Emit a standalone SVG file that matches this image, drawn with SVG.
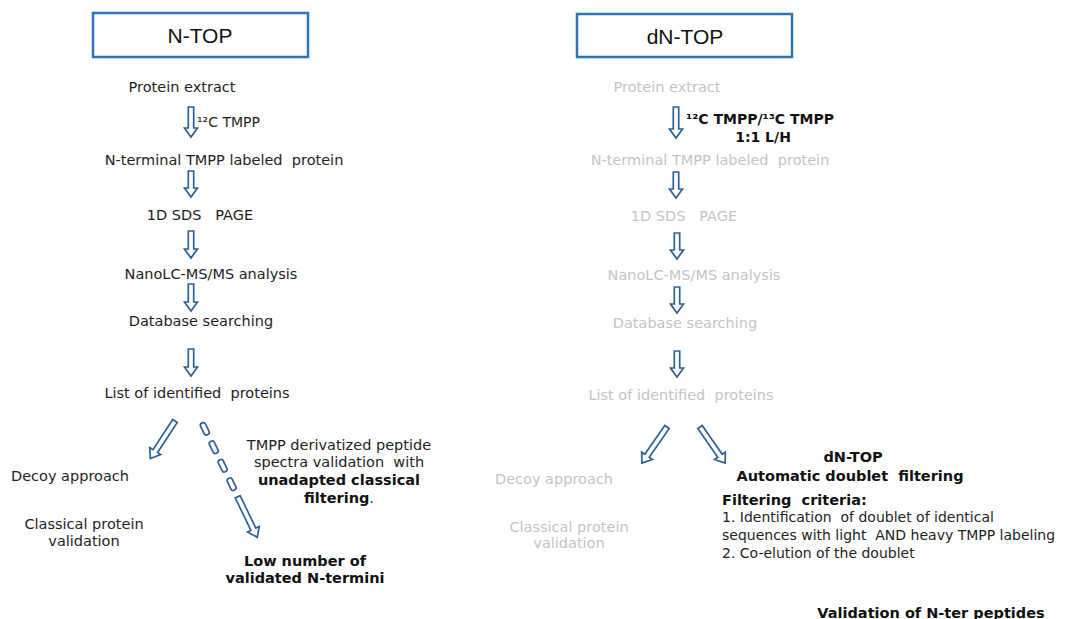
<svg xmlns="http://www.w3.org/2000/svg" width="1065" height="619" viewBox="0 0 1065 619">
<style>
text{font-family:"DejaVu Sans",Verdana,sans-serif;font-size:14.5px;fill:#1e1e1e;white-space:pre}
.c{text-anchor:middle}
.g{fill:#c4c4c4}
.b{font-weight:bold;fill:#111}
.s{font-size:14px}
.title{font-family:"Liberation Sans",Arial,sans-serif;font-size:21px;fill:#111;text-anchor:middle}
.box{fill:#fff;stroke:#2e75b6;stroke-width:2.5}
.arr{fill:#fff;stroke:#2c6198;stroke-width:1.7;stroke-linejoin:miter}
</style>
<rect width="1065" height="619" fill="#fff"/>

<g id="ntop-title"><rect class="box" x="93" y="13" width="215" height="44"/><text class="title" x="200" y="43">N-TOP</text></g>
<g id="dntop-title"><rect class="box" x="577" y="14" width="215" height="43"/><text class="title" x="685" y="44">dN-TOP</text></g>

<g id="left-nodes">
<g id="l-extract"><text class="c" x="182" y="92">Protein extract</text></g>
<g id="l-label"><text class="s" x="197" y="127">¹²C TMPP</text></g>
<g id="l-labeled"><text class="c" x="224" y="165">N-terminal TMPP labeled  protein</text></g>
<g id="l-sds"><text class="c" x="200" y="220">1D SDS   PAGE</text></g>
<g id="l-nano"><text class="c" x="211" y="279">NanoLC-MS/MS analysis</text></g>
<g id="l-db"><text class="c" x="201" y="326">Database searching</text></g>
<g id="l-list"><text class="c" x="197" y="398">List of identified  proteins</text></g>
<g id="l-decoy"><text class="c" x="70" y="481">Decoy approach</text></g>
<g id="l-classical"><text class="c" x="84" y="529">Classical protein</text><text class="c" x="84" y="546">validation</text></g>
<g id="l-tmpp"><text class="c" x="339" y="450">TMPP derivatized peptide</text><text class="c" x="339" y="467">spectra validation  with</text><text class="c b" x="339" y="485">unadapted classical</text><text class="c" x="339" y="503"><tspan class="b">filtering</tspan>.</text></g>
<g id="l-low"><text class="c b" x="305" y="566">Low number of</text><text class="c b" x="305" y="583">validated N-termini</text></g>
</g>

<g id="right-nodes">
<g id="r-extract"><text class="c g" x="667" y="92">Protein extract</text></g>
<g id="r-label"><text class="b s" x="686" y="124">¹²C TMPP/¹³C TMPP</text><text class="c b s" x="763" y="142">1:1 L/H</text></g>
<g id="r-labeled"><text class="c g" x="710" y="165">N-terminal TMPP labeled  protein</text></g>
<g id="r-sds"><text class="c g" x="684" y="221">1D SDS   PAGE</text></g>
<g id="r-nano"><text class="c g" x="694" y="280">NanoLC-MS/MS analysis</text></g>
<g id="r-db"><text class="c g" x="685" y="328">Database searching</text></g>
<g id="r-list"><text class="c g" x="681" y="400">List of identified  proteins</text></g>
<g id="r-decoy"><text class="c g" x="554" y="484">Decoy approach</text></g>
<g id="r-classical"><text class="c g" x="569" y="532">Classical protein</text><text class="c g" x="569" y="548">validation</text></g>
<g id="r-auto"><text class="c b" x="853" y="462">dN-TOP</text><text class="c b" x="850" y="481">Automatic doublet  filtering</text></g>
<g id="r-criteria"><text class="b" x="722" y="505">Filtering  criteria:</text><text class="s" x="722" y="522">1. Identification  of doublet of identical</text><text class="s" x="722" y="540">sequences with light  AND heavy TMPP labeling</text><text class="s" x="722" y="558">2. Co-elution of the doublet</text></g>
<g id="r-valid"><text class="c b" x="931" y="618">Validation of N-ter peptides</text></g>
</g>

<g id="connectors">
<path class="arr" transform="translate(191,107)" d="M-2.7 0V21H-6.5L0 30L6.5 21H2.7V0Z"/>
<path class="arr" transform="translate(191,171)" d="M-2.7 0V17H-6.5L0 26L6.5 17H2.7V0Z"/>
<path class="arr" transform="translate(191,231)" d="M-2.7 0V18H-6.5L0 27L6.5 18H2.7V0Z"/>
<path class="arr" transform="translate(191,284)" d="M-2.7 0V18H-6.5L0 27L6.5 18H2.7V0Z"/>
<path class="arr" transform="translate(191,349)" d="M-2.7 0V18H-6.5L0 27L6.5 18H2.7V0Z"/>
<path class="arr" transform="translate(175,421) rotate(33.3)" d="M-2.7 0V36H-6.5L0 45L6.5 36H2.7V0Z"/>
<g transform="translate(202,423) rotate(-25.8)">
<rect class="arr" x="-2.7" y="0" width="5.4" height="13" rx="2.4"/>
<rect class="arr" x="-2.7" y="20.5" width="5.4" height="13" rx="2.4"/>
<rect class="arr" x="-2.7" y="41" width="5.4" height="13" rx="2.4"/>
<rect class="arr" x="-2.7" y="61.5" width="5.4" height="13" rx="2.4"/>
<path class="arr" d="M-2.7 82V118H-6.5L0 127L6.5 118H2.7V82Z"/>
</g>
<path class="arr" transform="translate(676,107)" d="M-2.7 0V22H-6.5L0 31L6.5 22H2.7V0Z"/>
<path class="arr" transform="translate(676,172)" d="M-2.7 0V17H-6.5L0 26L6.5 17H2.7V0Z"/>
<path class="arr" transform="translate(677,233)" d="M-2.7 0V17H-6.5L0 26L6.5 17H2.7V0Z"/>
<path class="arr" transform="translate(677,287)" d="M-2.7 0V17H-6.5L0 26L6.5 17H2.7V0Z"/>
<path class="arr" transform="translate(677,351)" d="M-2.7 0V17H-6.5L0 26L6.5 17H2.7V0Z"/>
<path class="arr" transform="translate(667,427) rotate(34.8)" d="M-2.7 0V35H-6.5L0 44L6.5 35H2.7V0Z"/>
<path class="arr" transform="translate(700,427) rotate(-34.8)" d="M-2.7 0V35H-6.5L0 44L6.5 35H2.7V0Z"/>
</g>
</svg>
